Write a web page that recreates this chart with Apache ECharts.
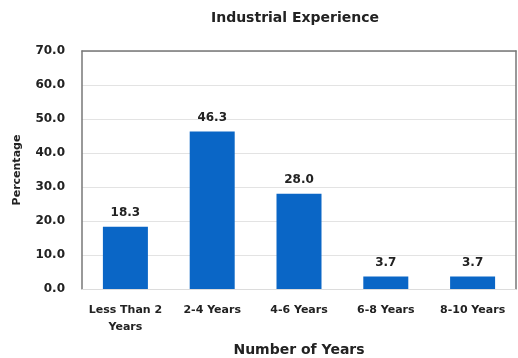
<!DOCTYPE html>
<html><head><meta charset="utf-8">
<script src="https://cdn.jsdelivr.net/npm/echarts@6/dist/echarts.min.js"></script>
<style>html,body{margin:0;padding:0;background:#fff}#c{width:518px;height:358px}</style>
</head><body><div id="c"></div>
<script>
const categories = ['Less Than 2\nYears', '2-4 Years', '4-6 Years', '6-8 Years', '8-10 Years'];
const values = [18.3, 46.3, 28.0, 3.7, 3.7];
const yTicks = [0, 10, 20, 30, 40, 50, 60, 70];

const font = 'DejaVu Sans';
const chart = echarts.init(document.getElementById('c'));
chart.setOption({
  animation: false,
  backgroundColor: '#fff',
  title: {
    text: 'Industrial Experience', left: 290, top: 6, textAlign: 'center',
    textStyle: { fontFamily: font, fontSize: 14, fontWeight: 'bold', color: '#222' }
  },
  grid: { left: 82, right: 2, top: 51, bottom: 69, containLabel: false, outerBoundsMode: 'none' },
  xAxis: [{
    type: 'category', data: categories,
    axisLine: { lineStyle: { color: '#dcdcdc', width: 1 } },
    axisTick: { show: false },
    axisLabel: { fontFamily: font, fontSize: 11, fontWeight: 'bold', color: '#222', margin: 13, lineHeight: 17, interval: 0 },
    name: 'Number of Years', nameLocation: 'middle', nameGap: 54, nameMoveOverlap: false,
    nameTextStyle: { fontFamily: font, fontSize: 14, fontWeight: 'bold', color: '#222' }
  }, {
    type: 'category', position: 'top', data: categories,
    axisLine: { onZero: false, lineStyle: { color: '#777', width: 1.5 } },
    axisTick: { show: false }, axisLabel: { show: false }
  }],
  yAxis: [{
    type: 'value', min: yTicks[0], max: yTicks[yTicks.length - 1], interval: 10,
    axisLine: { show: true, lineStyle: { color: '#777', width: 1.5 } },
    axisTick: { show: false },
    splitLine: { lineStyle: { color: '#e3e3e3' } },
    axisLabel: { fontFamily: font, fontSize: 12, fontWeight: 'bold', color: '#222', margin: 17,
      formatter: v => v.toFixed(1) },
    name: 'Percentage', nameLocation: 'middle', nameGap: 59,
    nameTextStyle: { fontFamily: font, fontSize: 11, fontWeight: 'bold', color: '#222' }
  }, {
    type: 'value', position: 'right', min: yTicks[0], max: yTicks[yTicks.length - 1], interval: 10,
    axisLine: { show: true, onZero: false, lineStyle: { color: '#777', width: 1.5 } },
    axisTick: { show: false }, axisLabel: { show: false }, splitLine: { show: false }
  }],
  series: [{
    type: 'bar', data: values, barWidth: 45,
    itemStyle: { color: '#0a66c6' },
    label: { show: true, position: 'top', distance: 8, fontFamily: font, fontSize: 12, fontWeight: 'bold', color: '#222',
      formatter: p => p.value.toFixed(1) }
  }]
});
</script></body></html>
